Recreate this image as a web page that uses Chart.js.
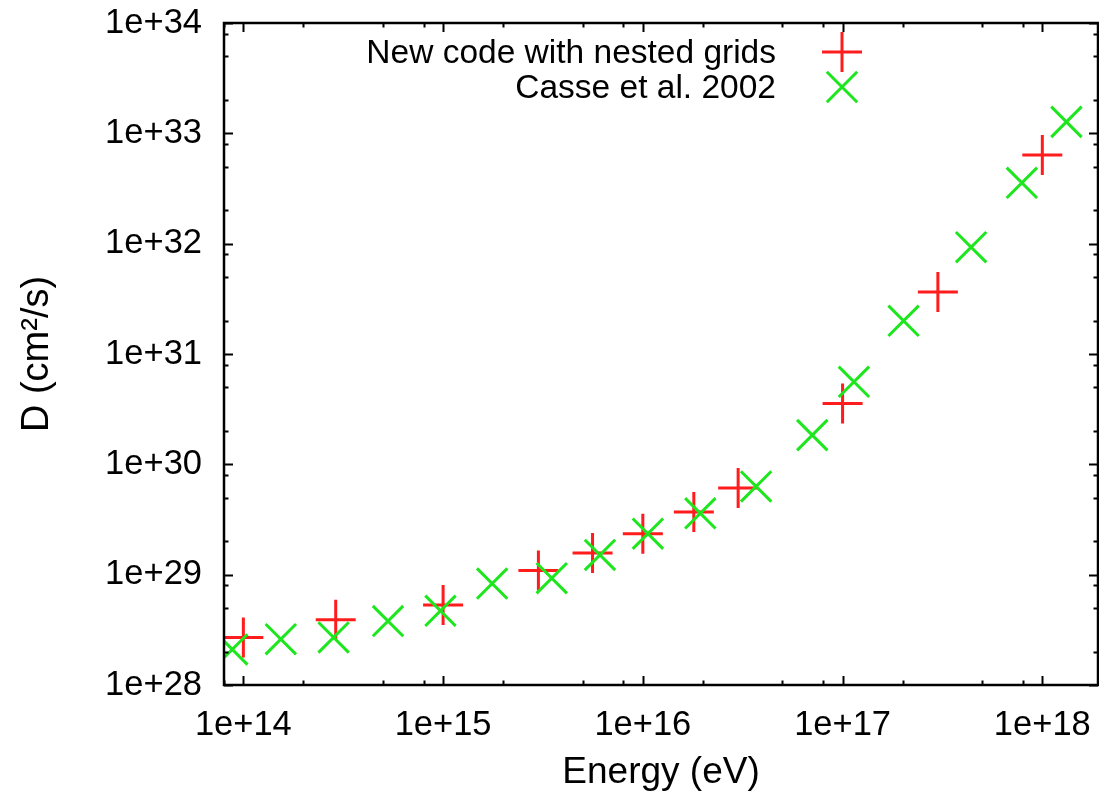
<!DOCTYPE html>
<html>
<head>
<meta charset="utf-8">
<script src="https://cdn.jsdelivr.net/npm/chart.js@4/dist/chart.umd.min.js"></script>
<style>
  body { margin: 0; background: #fff; }
  #wrap { width: 1099px; height: 795px; }
</style>
</head>
<body>
<div id="wrap"><canvas id="diff_chart" width="1099" height="795"></canvas></div>
<script>
// dati (energia in eV, D in cm^2/s)
const new_code_energy = [1e14, 2.9e14, 1e15, 3e15, 5.6e15, 1e16, 1.8e16, 3e16, 1e17, 3e17, 1e18];
const new_code_D = [2.7e28, 3.9e28, 5.3e28, 1.09e29, 1.57e29, 2.35e29, 3.7e29, 6.1e29, 3.56e30, 3.64e31, 6.35e32];

const casse_energy = [8.8e13, 1.54e14, 2.83e14, 5.3e14, 9.7e14, 1.76e15, 3.5e15, 6.1e15, 1.06e16, 1.94e16,
  3.69e16, 7.05e16, 1.14e17, 2.02e17, 4.4e17, 7.9e17, 1.32e18];
const casse_D = [2.1e28, 2.6e28, 2.7e28, 3.8e28, 4.7e28, 8.3e28, 9.3e28, 1.51e29, 2.35e29, 3.6e29,
  6.3e29, 1.84e30, 5.6e30, 2.0e31, 9.3e31, 3.56e32, 1.27e33];

// tacche principali degli assi
const x_major_ticks = [1e14, 1e15, 1e16, 1e17, 1e18];
const y_major_ticks = [1e28, 1e29, 1e30, 1e31, 1e32, 1e33, 1e34];
const minor_factors = [2, 5, 8];

const series_labels = ['New code with nested grids', 'Casse et al. 2002'];
const x_title = 'Energy (eV)';
const y_title = 'D (cm²/s)';

const FONT = "'Liberation Sans', Arial, Helvetica, sans-serif";
const RED = '#ff1c1c';
const GREEN = '#1ee61e';

// costruisco la lista di tacche (principali + secondarie) per una scala
function buildTicks(majors, min, max) {
  let list = [];
  majors.forEach(m => {
    list.push({ value: m, major: true });
    minor_factors.forEach(f => list.push({ value: m * f, major: false }));
    minor_factors.forEach(f => list.push({ value: m / 10 * f, major: false }));
  });
  list = list.filter(t => t.value >= min * 0.999 && t.value <= max * 1.001);
  list.sort((a, b) => a.value - b.value);
  return list.filter((t, i) => i == 0 || Math.abs(t.value / list[i - 1].value - 1) > 1e-6);
}

function expLabel(v) {
  const e = Math.round(Math.log10(v));
  if (Math.abs(v / Math.pow(10, e) - 1) > 1e-6) return '';
  return '1e+' + e;
}

// cornice, tacche interne e legenda stile gnuplot
const gnuplotLook = {
  id: 'gnuplotLook',
  afterDraw(chart) {
    const ctx = chart.ctx;
    const a = chart.chartArea;
    const xs = chart.scales.x;
    const ys = chart.scales.y;
    ctx.save();
    ctx.strokeStyle = '#000';
    ctx.lineWidth = 2;
    xs.ticks.forEach(t => {
      const px = Math.round(xs.getPixelForValue(t.value)) + 0.5;
      const len = t.major ? 9 : 4.5;
      ctx.beginPath();
      ctx.moveTo(px, a.bottom); ctx.lineTo(px, a.bottom - len);
      ctx.moveTo(px, a.top); ctx.lineTo(px, a.top + len);
      ctx.stroke();
    });
    ys.ticks.forEach(t => {
      const py = Math.round(ys.getPixelForValue(t.value)) + 0.5;
      const len = t.major ? 9 : 4.5;
      ctx.beginPath();
      ctx.moveTo(a.left, py); ctx.lineTo(a.left + len, py);
      ctx.moveTo(a.right, py); ctx.lineTo(a.right - len, py);
      ctx.stroke();
    });
    ctx.lineWidth = 2.5;
    ctx.strokeRect(a.left, a.top, a.right - a.left, a.bottom - a.top);

    // legenda: testo allineato a destra, simbolo a destra del testo
    ctx.font = '33.5px ' + FONT;
    ctx.textAlign = 'right';
    ctx.textBaseline = 'alphabetic';
    const rows = [{ y: 63, sym: 52 }, { y: 98, sym: 87 }];
    chart.data.datasets.forEach((ds, i) => {
      ctx.fillStyle = '#000';
      ctx.fillText(ds.label, 776, rows[i].y);
      ctx.strokeStyle = ds.borderColor;
      ctx.fillStyle = ds.borderColor;
      ctx.lineWidth = ds.borderWidth;
      Chart.helpers.drawPoint(ctx, {
        pointStyle: ds.pointStyle,
        radius: ds.pointRadius,
        borderWidth: ds.borderWidth
      }, 842, rows[i].sym);
    });
    ctx.restore();
  }
};

const X_MIN = 8e13, X_MAX = 1.9e18, Y_MIN = 1e28, Y_MAX = 1e34;

const chart = new Chart(document.getElementById('diff_chart'), {
  type: 'scatter',
  data: {
    datasets: [
      {
        label: series_labels[0],
        data: new_code_energy.map((e, i) => ({ x: e, y: new_code_D[i] })),
        pointStyle: 'cross',
        pointRadius: 20,
        borderWidth: 3,
        borderColor: RED,
        backgroundColor: RED,
        order: 1
      },
      {
        label: series_labels[1],
        data: casse_energy.map((e, i) => ({ x: e, y: casse_D[i] })),
        pointStyle: 'crossRot',
        pointRadius: 21.5,
        borderWidth: 3,
        borderColor: GREEN,
        backgroundColor: GREEN,
        order: 0
      }
    ]
  },
  options: {
    responsive: false,
    animation: false,
    layout: { autoPadding: false, padding: { top: 23, right: 1, left: 0, bottom: 0 } },
    plugins: {
      legend: { display: false },
      tooltip: { enabled: false }
    },
    scales: {
      x: {
        type: 'logarithmic',
        min: X_MIN,
        max: X_MAX,
        grid: { display: false, drawTicks: false },
        border: { display: false },
        afterBuildTicks: s => { s.ticks = buildTicks(x_major_ticks, X_MIN, X_MAX); },
        afterFit: s => { s.height = 110; s.paddingLeft = 0; s.paddingRight = 0; },
        ticks: {
          autoSkip: false,
          maxRotation: 0,
          padding: 20,
          color: '#000',
          font: { family: FONT, size: 34.5 },
          callback: v => expLabel(v)
        },
        title: {
          display: true,
          text: x_title,
          color: '#000',
          font: { family: FONT, size: 37 },
          padding: { top: 0, bottom: 0 }
        }
      },
      y: {
        type: 'logarithmic',
        min: Y_MIN,
        max: Y_MAX,
        grid: { display: false, drawTicks: false },
        border: { display: false },
        afterBuildTicks: s => { s.ticks = buildTicks(y_major_ticks, Y_MIN, Y_MAX); },
        afterFit: s => { s.width = 224; s.paddingTop = 0; s.paddingBottom = 0; },
        ticks: {
          autoSkip: false,
          padding: 22,
          color: '#000',
          font: { family: FONT, size: 34.5 },
          callback: v => expLabel(v)
        },
        title: {
          display: true,
          text: y_title,
          color: '#000',
          font: { family: FONT, size: 38 },
          padding: { top: 15, bottom: 0 }
        }
      }
    }
  },
  plugins: [gnuplotLook]
});
</script>
</body>
</html>
